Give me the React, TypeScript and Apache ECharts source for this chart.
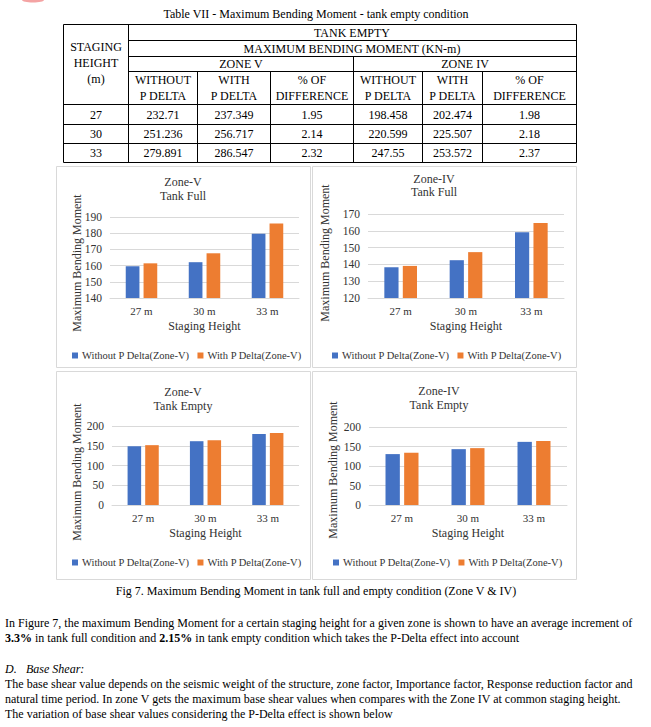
import React, { useEffect, useRef } from "react";
import * as echarts from "echarts";

// ---------- DATA ----------
const categories = ["27 m", "30 m", "33 m"];
const seriesNames = ["Without P Delta(Zone-V)", "With P Delta(Zone-V)"];

const fullZoneVWithout = [159.6, 162.1, 179.7];
const fullZoneVWith = [161.4, 167.6, 186.0];
const fullZoneIVWithout = [138.3, 142.5, 159.2];
const fullZoneIVWith = [139.1, 147.3, 164.6];
const emptyZoneVWithout = [149.0, 161.5, 180.0];
const emptyZoneVWith = [151.5, 164.0, 182.4];
const emptyZoneIVWithout = [130.5, 143.2, 161.9];
const emptyZoneIVWith = [134.0, 145.8, 164.4];

// table
const tableTitle = "Table VII - Maximum Bending Moment - tank empty condition";
const stagingHeights = ["27", "30", "33"];
const zoneVWithout = ["232.71", "251.236", "279.891"];
const zoneVWith = ["237.349", "256.717", "286.547"];
const zoneVDiff = ["1.95", "2.14", "2.32"];
const zoneIVWithout = ["198.458", "220.599", "247.55"];
const zoneIVWith = ["202.474", "225.507", "253.572"];
const zoneIVDiff = ["1.98", "2.18", "2.37"];
const subHeaders = [
  ["WITHOUT", "P DELTA"],
  ["WITH", "P DELTA"],
  ["% OF", "DIFFERENCE"],
  ["WITHOUT", "P DELTA"],
  ["WITH", "P DELTA"],
  ["% OF", "DIFFERENCE"],
];

const caption = "Fig 7. Maximum Bending Moment in tank full and empty condition (Zone V & IV)";
const paraLines = [
  "In Figure 7, the maximum Bending Moment for a certain staging height for a given zone is shown to have an average increment of",
  "{b|3.3%} in tank full condition and {b|2.15%} in tank empty condition which takes the P-Delta effect into account",
];
const paraLines2 = [
  "The base shear value depends on the seismic weight of the structure, zone factor, Importance factor, Response reduction factor and",
  "natural time period. In zone V gets the maximum base shear values when compares with the Zone IV at common staging height.",
  "The variation of base shear values considering the P-Delta effect is shown below",
];

// ---------- STYLE ----------
const FONT = '"Liberation Serif", "Times New Roman", serif';
const BLUE = "#4472C4";
const ORANGE = "#ED7D31";
const GRID = "#d9d9d9";
const CHART_TEXT = "#333333";

const panels = [
  {
    title: ["Zone-V", "Tank Full"], without: fullZoneVWithout, withP: fullZoneVWith,
    min: 140, max: 190, interval: 10,
    frame: [56, 166, 254, 201], grid: { left: 110, top: 217, width: 189, height: 81 },
    titleX: 183, titleY: [182, 196], yNameX: 77, yNameY: 263, legendLeft: 72, legendTop: 350,
  },
  {
    title: ["Zone-IV", "Tank Full"], without: fullZoneIVWithout, withP: fullZoneIVWith,
    min: 120, max: 170, interval: 10,
    frame: [312, 166, 264, 201], grid: { left: 368, top: 214, width: 196, height: 84 },
    titleX: 434, titleY: [179, 192], yNameX: 325, yNameY: 253, legendLeft: 332, legendTop: 350,
  },
  {
    title: ["Zone-V", "Tank Empty"], without: emptyZoneVWithout, withP: emptyZoneVWith,
    min: 0, max: 200, interval: 50,
    frame: [56, 371, 254, 208], grid: { left: 112, top: 426, width: 187, height: 79 },
    titleX: 183, titleY: [392, 406], yNameX: 77, yNameY: 472, legendLeft: 72, legendTop: 557,
  },
  {
    title: ["Zone-IV", "Tank Empty"], without: emptyZoneIVWithout, withP: emptyZoneIVWith,
    min: 0, max: 200, interval: 50,
    frame: [312, 371, 264, 208], grid: { left: 369, top: 427, width: 198, height: 78 },
    titleX: 439, titleY: [391, 405], yNameX: 333, yNameY: 470, legendLeft: 333, legendTop: 557,
  },
];

function txt(x: number, y: number, text: string, opts: any = {}) {
  return {
    type: "text",
    x,
    y,
    rotation: opts.rotation || 0,
    silent: true,
    style: {
      text,
      fill: opts.fill || "#000",
      fontFamily: FONT,
      fontSize: opts.fontSize || 12,
      fontWeight: opts.fontWeight || "normal",
      fontStyle: opts.fontStyle || "normal",
      align: opts.align || "center",
      verticalAlign: "middle",
      rich: opts.rich,
    },
  };
}

function ln(x1: number, y1: number, x2: number, y2: number, stroke = "#000") {
  return {
    type: "line",
    silent: true,
    shape: { x1, y1, x2, y2 },
    style: { stroke, lineWidth: 1 },
  };
}

function buildOption() {
  const graphics: any[] = [];

  // small cropped red mark in the top-left corner
  graphics.push({
    type: "ellipse",
    silent: true,
    shape: { cx: 33, cy: 0, rx: 11, ry: 2.5 },
    style: { fill: "#f4a3a3" },
  });

  // ---- table ----
  const L = 63.5, R = 576.5, T = 24.5, B = 162.5;
  const c1 = 128.5;
  const cols = [128.5, 197.5, 270.5, 353.5, 422.5, 482.5, 576.5];
  graphics.push(txt(316, 14, tableTitle));
  [T, 104.5, 124.5, 143.5, B].forEach((y) => graphics.push(ln(L, y, R, y)));
  [40.5, 56.5, 71.5].forEach((y) => graphics.push(ln(c1, y, R, y)));
  graphics.push(ln(L, T, L, B), ln(c1, T, c1, B), ln(R, T, R, B));
  graphics.push(ln(353.5, 56.5, 353.5, B));
  [197.5, 270.5, 422.5, 482.5].forEach((x) => graphics.push(ln(x, 71.5, x, B)));

  graphics.push(txt(352, 32.5, "TANK EMPTY"));
  graphics.push(txt(352, 48.5, "MAXIMUM BENDING MOMENT (KN-m)"));
  graphics.push(txt(241, 64, "ZONE V"));
  graphics.push(txt(465, 64, "ZONE IV"));
  graphics.push(txt(96, 47, "STAGING"));
  graphics.push(txt(96, 63, "HEIGHT"));
  graphics.push(txt(96, 79, "(m)"));
  const colCenters = cols.slice(0, 6).map((x, i) => (x + cols[i + 1]) / 2);
  subHeaders.forEach((h, i) => {
    graphics.push(txt(colCenters[i], 80, h[0]));
    graphics.push(txt(colCenters[i], 96, h[1]));
  });
  const tableCols = [zoneVWithout, zoneVWith, zoneVDiff, zoneIVWithout, zoneIVWith, zoneIVDiff];
  const rowY = [114.5, 134, 153];
  stagingHeights.forEach((h, r) => {
    graphics.push(txt(96, rowY[r], h));
    tableCols.forEach((col, i) => graphics.push(txt(colCenters[i], rowY[r], col[r])));
  });

  // ---- chart frames, titles, y names ----
  panels.forEach((p) => {
    graphics.push({
      type: "rect",
      silent: true,
      shape: { x: p.frame[0] + 0.5, y: p.frame[1] + 0.5, width: p.frame[2], height: p.frame[3] },
      style: { fill: "none", stroke: GRID, lineWidth: 1 },
    });
    graphics.push(txt(p.titleX, p.titleY[0], p.title[0], { fill: CHART_TEXT, fontSize: 12 }));
    graphics.push(txt(p.titleX, p.titleY[1], p.title[1], { fill: CHART_TEXT, fontSize: 12 }));
    graphics.push(
      txt(p.yNameX, p.yNameY, "Maximum Bending Moment", { fill: CHART_TEXT, fontSize: 12, rotation: Math.PI / 2 })
    );
  });

  // ---- caption and paragraphs ----
  graphics.push(txt(316, 591, caption));
  const rich = {
    b: { fontWeight: "bold", fontFamily: FONT, fontSize: 12, fill: "#000" },
  };
  graphics.push(txt(5, 623, paraLines[0], { align: "left" }));
  graphics.push(txt(5, 638, paraLines[1], { align: "left", rich }));
  graphics.push(txt(5, 669, "D.", { align: "left", fontStyle: "italic" }));
  graphics.push(txt(26, 669, "Base Shear:", { align: "left", fontStyle: "italic" }));
  paraLines2.forEach((l, i) => graphics.push(txt(5, 684 + i * 15, l, { align: "left" })));

  const grids = panels.map((p) => ({ ...p.grid, containLabel: false }));
  const xAxes = panels.map((p, i) => ({
    type: "category",
    gridIndex: i,
    data: categories,
    axisLine: { show: true, lineStyle: { color: GRID } },
    axisTick: { show: false },
    axisLabel: { color: CHART_TEXT, fontFamily: FONT, fontSize: 11, margin: 7 },
    name: "Staging Height",
    nameLocation: "middle",
    nameGap: 22,
    nameTextStyle: { color: CHART_TEXT, fontFamily: FONT, fontSize: 12 },
  }));
  const yAxes = panels.map((p, i) => ({
    type: "value",
    gridIndex: i,
    min: p.min,
    max: p.max,
    interval: p.interval,
    axisLine: { show: false },
    axisTick: { show: false },
    splitLine: { show: true, lineStyle: { color: GRID } },
    axisLabel: { color: CHART_TEXT, fontFamily: FONT, fontSize: 11.5, margin: 8 },
  }));
  const series: any[] = [];
  panels.forEach((p, i) => {
    series.push({
      type: "bar",
      name: seriesNames[0],
      xAxisIndex: i,
      yAxisIndex: i,
      data: p.without,
      itemStyle: { color: BLUE },
      barGap: "30%",
      barCategoryGap: "50%",
    });
    series.push({
      type: "bar",
      name: seriesNames[1],
      xAxisIndex: i,
      yAxisIndex: i,
      data: p.withP,
      itemStyle: { color: ORANGE },
      barGap: "30%",
      barCategoryGap: "50%",
    });
  });
  const legends = panels.map((p) => ({
    left: p.legendLeft,
    top: p.legendTop,
    orient: "horizontal",
    data: seriesNames,
    icon: "rect",
    itemWidth: 6,
    itemHeight: 6,
    itemGap: 8,
    selectedMode: false,
    padding: 0,
    textStyle: { color: CHART_TEXT, fontFamily: FONT, fontSize: 10.5, padding: [0, 0, 0, -1] },
  }));

  return {
    animation: false,
    backgroundColor: "#fff",
    textStyle: { fontFamily: FONT },
    grid: grids,
    xAxis: xAxes,
    yAxis: yAxes,
    series,
    legend: legends,
    graphic: graphics,
  };
}

export default function App() {
  const ref = useRef<HTMLDivElement>(null);
  useEffect(() => {
    if (!ref.current) return;
    const chart = echarts.init(ref.current, null, { renderer: "svg" });
    chart.setOption(buildOption() as any);
    return () => chart.dispose();
  }, []);
  return (
    <div
      ref={ref}
      style={{ position: "absolute", left: 0, top: 0, width: 651, height: 727, background: "#fff" }}
    />
  );
}
